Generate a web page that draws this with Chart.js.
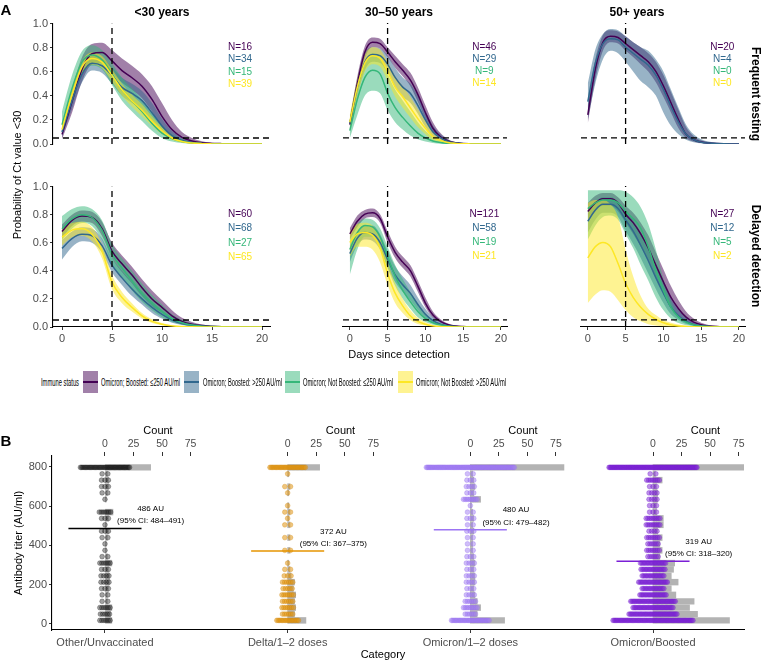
<!DOCTYPE html>
<html><head><meta charset="utf-8">
<script src="https://cdn.jsdelivr.net/npm/chart.js@4.4.1/dist/chart.umd.min.js"></script>
<style>
html,body{margin:0;padding:0;background:#fff;}
body{width:762px;height:662px;position:relative;overflow:hidden;font-family:"Liberation Sans",Arial,sans-serif;}
canvas{position:absolute;}
.t{position:absolute;white-space:nowrap;color:#000;line-height:1;}
.lt{position:absolute;white-space:nowrap;color:#000;line-height:1;transform-origin:0 50%;}
.key{position:absolute;}
.key i{position:absolute;left:0;right:0;top:10px;height:2px;}
</style></head><body>
<script>
// ---------------- DATA: panel A (probability of Ct<30 by day since detection) ----------------
const days = [0,1,2,3,4,5,6,7,8,9,10,11,12,13,14,15,16,17,18,19,20];
const dayTicks = [0,5,10,15,20];
const probTicks = [0,0.2,0.4,0.6,0.8,1.0];
const ageGroups = ['<30 years','30\u201350 years','50+ years'];
const testingRows = ['Frequent testing','Delayed detection'];
const immuneStatus = ['Omicron; Boosted: \u2264250 AU/ml','Omicron; Boosted: >250 AU/ml','Omicron; Not Boosted: \u2264250 AU/ml','Omicron; Not Boosted: >250 AU/ml'];
const nFrequent = [[16,34,15,39],[46,29,9,14],[20,4,0,0]];
const nDelayed  = [[60,68,27,65],[121,58,19,21],[27,12,5,2]];

// Frequent testing, <30
const fqU30_bLe_m  = [0.08,0.35,0.62,0.75,0.76,0.69,0.61,0.55,0.48,0.37,0.23,0.12,0.055,0.025,0.01,0.005,0.003,0.002,0.001,0.001,0.001];
const fqU30_bLe_lo = [0.04,0.26,0.52,0.66,0.67,0.59,0.51,0.45,0.38,0.27,0.14,0.06,0.025,0.01,0.004,0.002,0.001,0,0,0,0];
const fqU30_bLe_hi = [0.14,0.45,0.72,0.83,0.84,0.78,0.71,0.65,0.58,0.48,0.34,0.2,0.1,0.05,0.022,0.01,0.005,0.003,0.002,0.002,0.002];
const fqU30_bGt_m  = [0.1,0.36,0.58,0.67,0.65,0.57,0.47,0.42,0.36,0.26,0.15,0.07,0.03,0.012,0.005,0.002,0.001,0,0,0,0];
const fqU30_bGt_lo = [0.06,0.29,0.51,0.61,0.59,0.5,0.4,0.34,0.28,0.19,0.1,0.04,0.015,0.006,0.002,0.001,0,0,0,0,0];
const fqU30_bGt_hi = [0.15,0.43,0.65,0.73,0.71,0.64,0.55,0.5,0.44,0.34,0.21,0.11,0.05,0.02,0.009,0.004,0.002,0.001,0.001,0.001,0.001];
const fqU30_nLe_m  = [0.16,0.46,0.68,0.74,0.7,0.58,0.45,0.36,0.27,0.17,0.09,0.045,0.02,0.008,0.003,0.001,0,0,0,0,0];
const fqU30_nLe_lo = [0.08,0.35,0.58,0.65,0.62,0.49,0.36,0.27,0.19,0.11,0.05,0.02,0.008,0.003,0.001,0,0,0,0,0,0];
const fqU30_nLe_hi = [0.27,0.57,0.77,0.82,0.78,0.67,0.55,0.46,0.37,0.26,0.15,0.08,0.04,0.018,0.007,0.003,0.001,0.001,0.001,0.001,0.001];
const fqU30_nGt_m  = [0.12,0.41,0.64,0.71,0.68,0.57,0.45,0.36,0.28,0.19,0.11,0.05,0.02,0.008,0.003,0.001,0,0,0,0,0];
const fqU30_nGt_lo = [0.08,0.35,0.58,0.66,0.63,0.52,0.4,0.31,0.23,0.15,0.08,0.035,0.013,0.005,0.002,0,0,0,0,0,0];
const fqU30_nGt_hi = [0.16,0.47,0.69,0.76,0.73,0.62,0.5,0.41,0.33,0.23,0.14,0.07,0.03,0.012,0.005,0.002,0.001,0.001,0.001,0.001,0.001];

// Frequent testing, 30-50
const fq3050_bLe_m  = [0.16,0.5,0.76,0.84,0.83,0.76,0.68,0.61,0.53,0.41,0.26,0.13,0.06,0.025,0.01,0.004,0.002,0.001,0,0,0];
const fq3050_bLe_lo = [0.12,0.44,0.71,0.8,0.79,0.72,0.63,0.56,0.48,0.35,0.21,0.1,0.04,0.016,0.006,0.002,0.001,0,0,0,0];
const fq3050_bLe_hi = [0.2,0.56,0.81,0.88,0.87,0.8,0.73,0.66,0.59,0.47,0.32,0.18,0.09,0.04,0.017,0.007,0.003,0.002,0.001,0.001,0.001];
const fq3050_bGt_m  = [0.17,0.47,0.68,0.74,0.73,0.66,0.55,0.47,0.42,0.32,0.2,0.1,0.05,0.02,0.008,0.003,0.001,0,0,0,0];
const fq3050_bGt_lo = [0.12,0.4,0.61,0.68,0.67,0.59,0.47,0.39,0.34,0.25,0.14,0.06,0.03,0.01,0.004,0.001,0,0,0,0,0];
const fq3050_bGt_hi = [0.22,0.54,0.75,0.8,0.79,0.73,0.63,0.55,0.5,0.4,0.27,0.15,0.08,0.035,0.014,0.006,0.002,0.001,0.001,0.001,0.001];
const fq3050_nLe_m  = [0.11,0.37,0.55,0.61,0.58,0.42,0.3,0.22,0.15,0.09,0.05,0.025,0.012,0.005,0.002,0.001,0,0,0,0,0];
const fq3050_nLe_lo = [0.05,0.24,0.4,0.44,0.42,0.28,0.18,0.12,0.07,0.04,0.02,0.008,0.003,0.001,0,0,0,0,0,0,0];
const fq3050_nLe_hi = [0.2,0.5,0.69,0.75,0.73,0.58,0.45,0.36,0.27,0.18,0.11,0.06,0.03,0.014,0.006,0.003,0.001,0.001,0.001,0.001,0.001];
const fq3050_nGt_m  = [0.18,0.47,0.67,0.73,0.71,0.6,0.47,0.39,0.3,0.21,0.13,0.06,0.03,0.012,0.005,0.002,0.001,0,0,0,0];
const fq3050_nGt_lo = [0.12,0.4,0.6,0.66,0.64,0.52,0.39,0.3,0.22,0.14,0.08,0.03,0.013,0.005,0.002,0.001,0,0,0,0,0];
const fq3050_nGt_hi = [0.24,0.54,0.74,0.8,0.78,0.68,0.56,0.48,0.39,0.29,0.19,0.1,0.05,0.022,0.009,0.004,0.002,0.001,0.001,0.001,0.001];

// Frequent testing, 50+
const fq50p_bLe_m  = [0.24,0.62,0.84,0.89,0.88,0.83,0.78,0.73,0.68,0.6,0.48,0.34,0.2,0.08,0.035,0.016,0.008,0.004,0.002,0.001,0.001];
const fq50p_bLe_lo = [0.17,0.53,0.77,0.84,0.83,0.77,0.72,0.66,0.6,0.51,0.39,0.26,0.13,0.05,0.02,0.008,0.003,0.001,0,0,0];
const fq50p_bLe_hi = [0.32,0.7,0.9,0.94,0.93,0.89,0.84,0.8,0.75,0.68,0.57,0.43,0.28,0.14,0.065,0.03,0.015,0.008,0.004,0.002,0.002];
const fq50p_bGt_m  = [0.35,0.67,0.83,0.87,0.86,0.8,0.75,0.7,0.65,0.57,0.45,0.31,0.18,0.08,0.035,0.015,0.008,0.004,0.002,0.001,0.001];
const fq50p_bGt_lo = [0.2,0.5,0.7,0.77,0.75,0.68,0.6,0.52,0.47,0.4,0.26,0.15,0.08,0.035,0.015,0.006,0.002,0.001,0,0,0];
const fq50p_bGt_hi = [0.5,0.78,0.91,0.95,0.94,0.89,0.84,0.8,0.77,0.7,0.6,0.45,0.3,0.16,0.08,0.04,0.02,0.01,0.005,0.003,0.002];

// Delayed detection, <30
const dlU30_bLe_m  = [0.68,0.76,0.79,0.78,0.7,0.54,0.45,0.37,0.28,0.2,0.14,0.08,0.04,0.02,0.01,0.005,0.002,0.001,0.001,0,0];
const dlU30_bLe_lo = [0.63,0.72,0.75,0.74,0.65,0.49,0.39,0.31,0.22,0.15,0.1,0.05,0.025,0.012,0.005,0.002,0.001,0,0,0,0];
const dlU30_bLe_hi = [0.73,0.8,0.83,0.82,0.75,0.6,0.51,0.43,0.34,0.26,0.19,0.12,0.065,0.035,0.017,0.008,0.004,0.002,0.001,0.001,0.001];
const dlU30_bGt_m  = [0.56,0.63,0.66,0.65,0.58,0.44,0.35,0.27,0.2,0.14,0.09,0.05,0.025,0.012,0.005,0.002,0.001,0,0,0,0];
const dlU30_bGt_lo = [0.48,0.57,0.61,0.6,0.53,0.39,0.3,0.22,0.16,0.1,0.06,0.03,0.015,0.006,0.002,0.001,0,0,0,0,0];
const dlU30_bGt_hi = [0.62,0.68,0.71,0.7,0.63,0.49,0.4,0.32,0.25,0.18,0.12,0.07,0.04,0.02,0.009,0.004,0.002,0.001,0.001,0,0];
const dlU30_nLe_m  = [0.7,0.77,0.8,0.78,0.69,0.52,0.42,0.33,0.24,0.17,0.11,0.06,0.03,0.014,0.006,0.003,0.001,0,0,0,0];
const dlU30_nLe_lo = [0.62,0.7,0.74,0.72,0.62,0.45,0.35,0.26,0.18,0.12,0.07,0.035,0.016,0.007,0.003,0.001,0,0,0,0,0];
const dlU30_nLe_hi = [0.79,0.84,0.86,0.84,0.76,0.59,0.49,0.4,0.31,0.23,0.16,0.09,0.05,0.025,0.012,0.006,0.003,0.001,0.001,0.001,0.001];
const dlU30_nGt_m  = [0.64,0.69,0.7,0.66,0.54,0.32,0.21,0.14,0.08,0.04,0.02,0.008,0.003,0.001,0,0,0,0,0,0,0];
const dlU30_nGt_lo = [0.58,0.64,0.65,0.61,0.49,0.27,0.17,0.11,0.06,0.028,0.013,0.005,0.002,0,0,0,0,0,0,0,0];
const dlU30_nGt_hi = [0.7,0.74,0.75,0.71,0.59,0.37,0.25,0.17,0.1,0.055,0.028,0.013,0.006,0.002,0.001,0.001,0,0,0,0,0];

// Delayed detection, 30-50
const dl3050_bLe_m  = [0.66,0.75,0.8,0.81,0.77,0.64,0.53,0.46,0.4,0.29,0.17,0.085,0.04,0.017,0.007,0.003,0.001,0,0,0,0];
const dl3050_bLe_lo = [0.62,0.71,0.77,0.78,0.74,0.6,0.49,0.42,0.36,0.25,0.14,0.065,0.03,0.012,0.005,0.002,0,0,0,0,0];
const dl3050_bLe_hi = [0.7,0.79,0.83,0.84,0.8,0.68,0.57,0.5,0.44,0.33,0.21,0.11,0.055,0.025,0.01,0.004,0.002,0.001,0.001,0,0];
const dl3050_bGt_m  = [0.52,0.63,0.67,0.66,0.6,0.48,0.37,0.3,0.24,0.16,0.09,0.045,0.02,0.008,0.003,0.001,0,0,0,0,0];
const dl3050_bGt_lo = [0.46,0.58,0.62,0.61,0.55,0.42,0.32,0.25,0.19,0.12,0.06,0.03,0.012,0.005,0.002,0,0,0,0,0,0];
const dl3050_bGt_hi = [0.58,0.68,0.72,0.72,0.66,0.54,0.43,0.36,0.3,0.21,0.13,0.07,0.035,0.015,0.006,0.002,0.001,0,0,0,0];
const dl3050_nLe_m  = [0.55,0.67,0.72,0.71,0.64,0.5,0.36,0.26,0.18,0.11,0.06,0.03,0.014,0.006,0.002,0.001,0,0,0,0,0];
const dl3050_nLe_lo = [0.37,0.55,0.64,0.64,0.57,0.42,0.29,0.2,0.13,0.07,0.035,0.016,0.007,0.003,0.001,0,0,0,0,0,0];
const dl3050_nLe_hi = [0.64,0.73,0.77,0.76,0.7,0.57,0.44,0.34,0.25,0.17,0.1,0.05,0.025,0.011,0.005,0.002,0.001,0,0,0,0];
const dl3050_nGt_m  = [0.6,0.66,0.67,0.65,0.56,0.38,0.24,0.15,0.08,0.04,0.02,0.008,0.003,0.001,0,0,0,0,0,0,0];
const dl3050_nGt_lo = [0.5,0.57,0.57,0.55,0.46,0.3,0.17,0.1,0.05,0.022,0.01,0.004,0.001,0,0,0,0,0,0,0,0];
const dl3050_nGt_hi = [0.68,0.73,0.74,0.72,0.63,0.46,0.31,0.2,0.12,0.065,0.033,0.015,0.006,0.002,0.001,0,0,0,0,0,0];

// Delayed detection, 50+
const dl50p_bLe_m  = [0.82,0.88,0.91,0.91,0.88,0.8,0.74,0.66,0.56,0.44,0.32,0.21,0.13,0.07,0.035,0.017,0.008,0.004,0.002,0.001,0.001];
const dl50p_bLe_lo = [0.75,0.82,0.86,0.86,0.82,0.74,0.66,0.57,0.47,0.35,0.24,0.14,0.08,0.04,0.018,0.008,0.003,0.001,0,0,0];
const dl50p_bLe_hi = [0.88,0.93,0.95,0.95,0.92,0.86,0.81,0.74,0.65,0.53,0.41,0.29,0.19,0.11,0.06,0.03,0.015,0.008,0.004,0.002,0.001];
const dl50p_bGt_m  = [0.75,0.83,0.87,0.87,0.84,0.76,0.68,0.58,0.47,0.35,0.24,0.14,0.08,0.04,0.018,0.008,0.004,0.002,0.001,0,0];
const dl50p_bGt_lo = [0.67,0.76,0.81,0.81,0.78,0.68,0.59,0.49,0.38,0.27,0.17,0.09,0.05,0.022,0.009,0.004,0.002,0,0,0,0];
const dl50p_bGt_hi = [0.82,0.89,0.92,0.92,0.89,0.83,0.76,0.67,0.56,0.44,0.32,0.2,0.12,0.065,0.03,0.014,0.007,0.003,0.001,0.001,0];
const dl50p_nLe_m  = [0.84,0.88,0.9,0.9,0.88,0.82,0.77,0.7,0.57,0.4,0.26,0.14,0.07,0.035,0.016,0.007,0.003,0.001,0,0,0];
const dl50p_nLe_lo = [0.62,0.72,0.78,0.79,0.76,0.66,0.56,0.44,0.33,0.21,0.12,0.06,0.028,0.012,0.005,0.002,0.001,0,0,0,0];
const dl50p_nLe_hi = [0.97,0.97,0.97,0.97,0.97,0.96,0.92,0.85,0.73,0.55,0.34,0.18,0.08,0.04,0.018,0.008,0.003,0.001,0,0,0];
const dl50p_nGt_m  = [0.49,0.57,0.6,0.57,0.45,0.31,0.21,0.14,0.09,0.055,0.03,0.015,0.007,0.003,0.001,0,0,0,0,0,0];
const dl50p_nGt_lo = [0.17,0.23,0.26,0.25,0.19,0.12,0.07,0.04,0.02,0.01,0.005,0.002,0.001,0,0,0,0,0,0,0,0];
const dl50p_nGt_hi = [0.88,0.9,0.9,0.87,0.78,0.55,0.36,0.22,0.13,0.085,0.05,0.03,0.018,0.01,0.005,0.002,0.001,0,0,0,0];

// reference lines
const ctThreshold = 0.05;
const cutoffDay = 5;

// ---------------- DATA: panel B (antibody titer by category) ----------------
const categories = ['Other/Unvaccinated','Delta/1\u20132 doses','Omicron/1\u20132 doses','Omicron/Boosted'];
const titerBins = [18,50,83,115,148,180,213,245,278,310,343,375,408,440,473,505,538,570,603,635,668,700,733,765,798];
const cntOther = [6,5,6,2,2,3,4,4,3,6,2,1,1,2,3,1,3,7,0,1,2,3,3,2,40];
const cntDelta = [16,6,7,6,7,5,6,3,2,1,0,2,0,2,0,2,1,2,1,0,1,2,0,1,28];
const cntOm12  = [30,6,9,6,4,3,4,4,3,4,3,2,2,2,3,2,3,2,1,9,3,4,3,2,82];
const cntOmB   = [67,39,32,36,20,16,22,16,18,19,6,8,6,8,4,9,9,3,3,4,4,3,8,2,95];
const meanTiter = [486,372,480,319];
const ciLow  = [484,367,479,318];
const ciHigh = [491,375,482,320];
const titerTicks = [0,200,400,600,800];
const countTicks = [0,25,50,75];

// ---------------- STYLE / LAYOUT ----------------
Chart.defaults.font.family = '"Liberation Sans", Arial, sans-serif';
Chart.defaults.animation = false;
const lineCols = ['#440154','#31688E','#35B779','#FDE725'];
const fillCols = ['rgba(68,1,84,0.5)','rgba(49,104,142,0.5)','rgba(53,183,121,0.5)','rgba(253,231,37,0.5)'];
const tickGrey = '#4D4D4D';
const X_MIN = -0.9, X_MAX = 20.8;

function S(m, lo, hi) { return {m, lo, hi}; }
const panelSeries = [
  [ [S(fqU30_bLe_m,fqU30_bLe_lo,fqU30_bLe_hi), S(fqU30_bGt_m,fqU30_bGt_lo,fqU30_bGt_hi), S(fqU30_nLe_m,fqU30_nLe_lo,fqU30_nLe_hi), S(fqU30_nGt_m,fqU30_nGt_lo,fqU30_nGt_hi)],
    [S(fq3050_bLe_m,fq3050_bLe_lo,fq3050_bLe_hi), S(fq3050_bGt_m,fq3050_bGt_lo,fq3050_bGt_hi), S(fq3050_nLe_m,fq3050_nLe_lo,fq3050_nLe_hi), S(fq3050_nGt_m,fq3050_nGt_lo,fq3050_nGt_hi)],
    [S(fq50p_bLe_m,fq50p_bLe_lo,fq50p_bLe_hi), S(fq50p_bGt_m,fq50p_bGt_lo,fq50p_bGt_hi), null, null] ],
  [ [S(dlU30_bLe_m,dlU30_bLe_lo,dlU30_bLe_hi), S(dlU30_bGt_m,dlU30_bGt_lo,dlU30_bGt_hi), S(dlU30_nLe_m,dlU30_nLe_lo,dlU30_nLe_hi), S(dlU30_nGt_m,dlU30_nGt_lo,dlU30_nGt_hi)],
    [S(dl3050_bLe_m,dl3050_bLe_lo,dl3050_bLe_hi), S(dl3050_bGt_m,dl3050_bGt_lo,dl3050_bGt_hi), S(dl3050_nLe_m,dl3050_nLe_lo,dl3050_nLe_hi), S(dl3050_nGt_m,dl3050_nGt_lo,dl3050_nGt_hi)],
    [S(dl50p_bLe_m,dl50p_bLe_lo,dl50p_bLe_hi), S(dl50p_bGt_m,dl50p_bGt_lo,dl50p_bGt_hi), S(dl50p_nLe_m,dl50p_nLe_lo,dl50p_nLe_hi), S(dl50p_nGt_m,dl50p_nGt_lo,dl50p_nGt_hi)] ]
];
const nCounts = [nFrequent, nDelayed];
const colGeo = [{left:0,w:275,padL:0,showY:true},{left:285,w:227,padL:5,showY:false},{left:523,w:227,padL:5,showY:false}];
const rowGeo = [{top:15,h:158,padT:8,padB:8,showX:false},{top:178,h:170,padT:8,padB:0,showX:true}];
const N_LABEL_X = 17.8, N_LABEL_Y = [0.8,0.7,0.6,0.5];

function makeCanvas(left, top, w, h) {
  const c = document.createElement('canvas');
  c.width = w; c.height = h;
  c.style.left = left + 'px'; c.style.top = top + 'px';
  c.style.width = w + 'px'; c.style.height = h + 'px';
  document.body.appendChild(c);
  return c;
}
function textPlugin(items) {
  return { id: 'txt', afterDatasetsDraw(chart) {
    const ctx = chart.ctx, xs = chart.scales.x, ys = chart.scales.y;
    ctx.save();
    items.list.forEach(it => {
      ctx.font = it.font; ctx.fillStyle = it.color;
      ctx.textAlign = 'center'; ctx.textBaseline = 'middle';
      ctx.fillText(it.text, xs.getPixelForValue(it.x), ys.getPixelForValue(it.y));
    });
    ctx.restore();
  }};
}
const axisTicksCommon = { color: tickGrey, font: { size: 11 }, autoSkip: false, maxRotation: 0 };

rowGeo.forEach((rg, r) => colGeo.forEach((cg, c) => {
  const canvas = makeCanvas(cg.left, rg.top, cg.w, rg.h);
  const ser = panelSeries[r][c];
  const ds = [];
  ser.forEach((s, k) => {
    if (!s) return;
    const loIdx = ds.length;
    ds.push({ data: days.map((d,i)=>({x:d,y:s.lo[i]})), borderWidth:0, pointRadius:0, fill:false, order:20-k, cubicInterpolationMode:'monotone' });
    ds.push({ data: days.map((d,i)=>({x:d,y:s.hi[i]})), borderWidth:0, pointRadius:0, fill:loIdx, backgroundColor:fillCols[k], order:20-k, cubicInterpolationMode:'monotone' });
  });
  ser.forEach((s, k) => {
    if (!s) return;
    ds.push({ data: days.map((d,i)=>({x:d,y:s.m[i]})), borderColor:lineCols[k], borderWidth:1.5, pointRadius:0, fill:false, order:10-k, cubicInterpolationMode:'monotone' });
  });
  ds.push({ data:[{x:X_MIN,y:ctThreshold},{x:X_MAX,y:ctThreshold}], borderColor:'#000', borderWidth:1.3, borderDash:[6,4], pointRadius:0, fill:false, order:0 });
  ds.push({ data:[{x:cutoffDay,y:0},{x:cutoffDay,y:1}], borderColor:'#000', borderWidth:1.3, borderDash:[6,4], pointRadius:0, fill:false, order:0 });
  const labels = nCounts[r][c].map((n,k)=>({ text:'N=' + n, color:lineCols[k], x:N_LABEL_X, y:N_LABEL_Y[k], font:'10px "Liberation Sans", Arial, sans-serif' }));
  new Chart(canvas, {
    type: 'line',
    data: { datasets: ds },
    options: {
      responsive:false, animation:false, events:[],
      layout: { padding: { left:cg.padL, right:5, top:rg.padT, bottom:rg.padB } },
      plugins: { legend:{display:false}, tooltip:{enabled:false} },
      scales: {
        x: { type:'linear', min:X_MIN, max:X_MAX, display:rg.showX,
             afterBuildTicks: s => { s.ticks = dayTicks.map(v=>({value:v})); },
             afterFit: s => { s.height = 21; },
             grid:{ drawOnChartArea:false, drawTicks:true, tickLength:3, color:'#333' },
             border:{ display:true, color:'#000', width:1.1 },
             ticks:{ ...axisTicksCommon, padding:2 } },
        y: { type:'linear', min:0, max:1, display:cg.showY,
             afterBuildTicks: s => { s.ticks = probTicks.map(v=>({value:v})); },
             afterFit: s => { s.width = 53; },
             grid:{ drawOnChartArea:false, drawTicks:true, tickLength:3, color:'#333' },
             border:{ display:true, color:'#000', width:1.1 },
             ticks:{ ...axisTicksCommon, padding:2, callback: v => v.toFixed(1) } }
      }
    },
    plugins: [textPlugin({list: labels})]
  });
}));

// ---------------- Panel B ----------------
const CAT_SPACING = 160;
const catCenters = categories.map((_,i)=>i*CAT_SPACING);
const BX_MIN = -46.4, BX_MAX = 559.7;
const dotFill = ['rgba(30,30,30,0.42)','rgba(226,150,18,0.55)','rgba(160,124,242,0.5)','rgba(126,36,214,0.5)'];
const dotLine = ['rgba(0,0,0,0.45)','rgba(210,135,10,0.55)','rgba(150,110,240,0.55)','rgba(115,25,205,0.55)'];
const meanCols = ['#000000','#E69500','#9C74F4','#7B1FD6'];
const countsByCat = [cntOther, cntDelta, cntOm12, cntOmB];

function swarm(n) { // horizontal spread (count units) of n dots in one titer bin
  if (n <= 1) return [0];
  const hw = Math.min(38.5, 1.5 + 0.5 * n);
  return Array.from({length:n}, (_, i) => -hw + 2 * hw * i / (n - 1));
}
const barData = [];
countsByCat.forEach((cnt, ci) => titerBins.forEach((b, bi) => {
  if (cnt[bi] > 0) barData.push({ y:b, x:[catCenters[ci], catCenters[ci] + cnt[bi]] });
}));
const bDatasets = [{ type:'bar', indexAxis:'y', data:barData, backgroundColor:'#B3B3B3', barThickness:5.8, grouped:false, order:5 }];
countsByCat.forEach((cnt, ci) => {
  const pts = [];
  titerBins.forEach((b, bi) => { if (cnt[bi] > 0) swarm(cnt[bi]).forEach(o => pts.push({ x: catCenters[ci] + o, y: b })); });
  bDatasets.push({ type:'scatter', data:pts, pointRadius:2.4, backgroundColor:dotFill[ci], borderColor:dotLine[ci], borderWidth:0.6, order:3 });
});
const MEAN_HALF = 32;
meanTiter.forEach((m, ci) => {
  bDatasets.push({ type:'line', data:[{x:catCenters[ci]-MEAN_HALF,y:m},{x:catCenters[ci]+MEAN_HALF,y:m}], borderColor:meanCols[ci], borderWidth:1.5, pointRadius:0, fill:false, order:1 });
});
const bLabels = [];
meanTiter.forEach((m, ci) => {
  bLabels.push({ text: m + ' AU', color:'#000', x: catCenters[ci] + 40, y: m + 100, font:'8px "Liberation Sans", Arial, sans-serif' });
  bLabels.push({ text: '(95% CI: ' + ciLow[ci] + '\u2013' + ciHigh[ci] + ')', color:'#000', x: catCenters[ci] + 40, y: m + 38, font:'8px "Liberation Sans", Arial, sans-serif' });
});
const bCanvas = makeCanvas(0, 420, 762, 242);
new Chart(bCanvas, {
  type: 'scatter',
  data: { datasets: bDatasets },
  options: {
    responsive:false, animation:false, events:[],
    layout: { padding: { left:0, right:18, top:0, bottom:0 } },
    plugins: { legend:{display:false}, tooltip:{enabled:false} },
    scales: {
      x: { type:'linear', position:'bottom', min:BX_MIN, max:BX_MAX, offset:false, beginAtZero:false,
           afterBuildTicks: s => { s.ticks = catCenters.map(v=>({value:v})); },
           afterFit: s => { s.height = 32; },
           grid:{ offset:false, drawOnChartArea:false, drawTicks:true, tickLength:3, color:'#333' },
           border:{ display:true, color:'#000', width:1.1 },
           ticks:{ ...axisTicksCommon, padding:3, callback: (v, i) => categories[i] } },
      x2: { type:'linear', position:'top', min:BX_MIN, max:BX_MAX, offset:false,
           afterBuildTicks: s => { s.ticks = []; catCenters.forEach(c => countTicks.forEach(t => s.ticks.push({value:c+t}))); },
           afterFit: s => { s.height = 36; },
           grid:{ offset:false, drawOnChartArea:false, drawTicks:true, tickLength:4, color:'#333' },
           border:{ display:false },
           ticks:{ ...axisTicksCommon, font:{size:10.5}, padding:2, callback: v => String(Math.round(v - catCenters[Math.round(v / CAT_SPACING)])) } },
      y: { type:'linear', min:-31, max:856, offset:false,
           afterBuildTicks: s => { s.ticks = titerTicks.map(v=>({value:v})); },
           afterFit: s => { s.width = 52; },
           grid:{ offset:false, drawOnChartArea:false, drawTicks:true, tickLength:3, color:'#333' },
           border:{ display:true, color:'#000', width:1.1 },
           ticks:{ ...axisTicksCommon, padding:2 } }
    }
  },
  plugins: [textPlugin({list: bLabels})]
});

// ---------------- Titles / labels (HTML text) ----------------
function addText(txt, cx, cy, size, opts = {}) {
  const d = document.createElement('div');
  d.className = 't'; d.textContent = txt;
  d.style.left = cx + 'px'; d.style.top = cy + 'px';
  d.style.fontSize = size + 'px';
  if (opts.bold) d.style.fontWeight = 'bold';
  if (opts.color) d.style.color = opts.color;
  d.style.transform = 'translate(-50%,-50%)' + (opts.rot ? ' rotate(' + opts.rot + 'deg)' : '');
  document.body.appendChild(d);
  return d;
}
addText('A', 6, 9, 15, {bold:true});
addText('B', 6, 440, 15, {bold:true});
const stripX = [162, 399, 637];
ageGroups.forEach((g, i) => addText(g, stripX[i], 12, 12, {bold:true}));
addText(testingRows[0], 756, 94, 12, {bold:true, rot:90});
addText(testingRows[1], 756, 256, 12, {bold:true, rot:90});
addText('Probability of Ct value <30', 17, 175, 11, {rot:-90});
addText('Days since detection', 399, 354, 11);
addText('Antibody titer (AU/ml)', 18, 543, 11, {rot:-90});
addText('Category', 383, 654, 11);
const catPx = [105, 287.5, 470, 652.5];
catPx.forEach(p => addText('Count', p + 53, 430, 11));

// legend
function addLegText(txt, left, cy, targetW) {
  const d = document.createElement('div');
  d.className = 'lt'; d.textContent = txt;
  d.style.fontSize = '10.5px';
  d.style.top = (cy - 5.5) + 'px';
  document.body.appendChild(d);
  const w = d.getBoundingClientRect().width;
  const sx = targetW / w;
  d.style.left = left + 'px';
  d.style.transform = 'scaleX(' + sx.toFixed(3) + ')';
}
addLegText('Immune status', 41, 382, 38);
const keyX = [83, 184, 285, 398];
const legTextX = [101, 203, 303, 416];
const legTextW = [79, 79, 90, 90];
immuneStatus.forEach((s, k) => {
  const key = document.createElement('div');
  key.className = 'key';
  key.style.left = keyX[k] + 'px'; key.style.top = '371px';
  key.style.width = '15px'; key.style.height = '22px';
  key.style.background = fillCols[k];
  const ln = document.createElement('i'); ln.style.background = lineCols[k];
  key.appendChild(ln);
  document.body.appendChild(key);
  addLegText(s, legTextX[k], 382, legTextW[k]);
});
</script>
</body></html>
